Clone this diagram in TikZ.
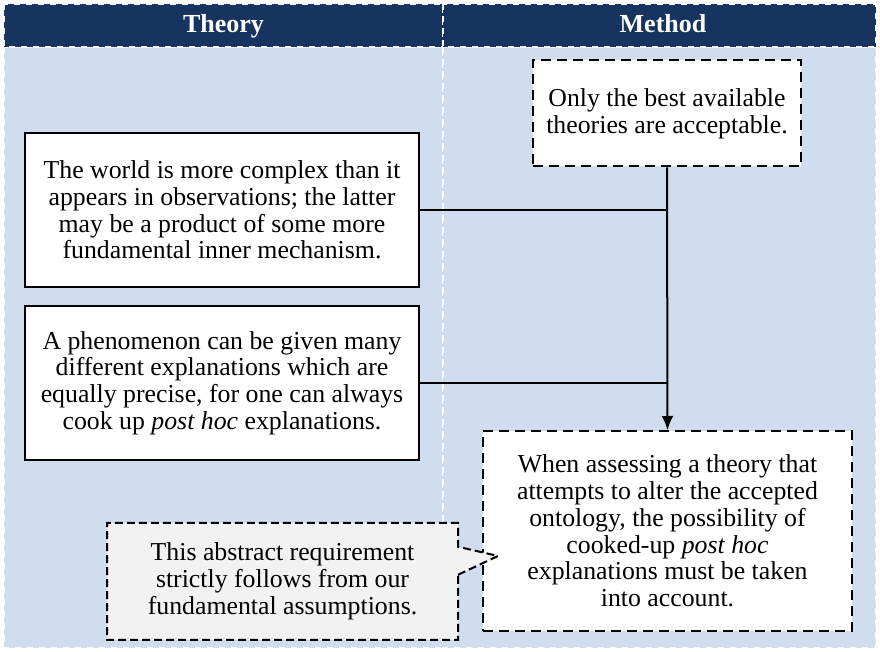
\documentclass[tikz,border=0pt]{standalone}
\usepackage{fontspec}
\setmainfont{Liberation Serif}
\usepackage{tikz}
\usetikzlibrary{positioning, arrows.meta, shapes.callouts}
\definecolor{navy}{RGB}{23,51,95}
\definecolor{paleblue}{RGB}{207,221,239}
\definecolor{notegray}{RGB}{242,242,242}
\tikzset{%
	>={Latex[length=7pt,width=6pt]},
	head/.style = {fill = navy, draw = white, dashed, line width = 0.6pt},
	lane/.style = {fill = paleblue, draw = white, dashed, line width = 0.6pt},
	headtxt/.style = {text = white, anchor = base, font = \fontsize{13}{14}\selectfont\bfseries},
	thebox/.style = {draw, fill = white, line width = 1pt, align = center, minimum width = 197pt, minimum height = 77pt, inner sep = 0pt},
	metbox/.style = {draw, fill = white, line width = 1pt, dash pattern = on 5pt off 3pt, align = center, inner sep = 0pt},
	note/.style = {rectangle callout, draw, fill = notegray, line width = 1pt, dash pattern = on 4pt off 2pt, align = center, inner sep = 0pt, callout pointer width = 14pt},
	link/.style = {line width = 1pt}
}

\begin{document}
\begin{tikzpicture}[x=0.5pt, y=-0.5pt, font=\fontsize{12.9}{13.4}\selectfont]
			\useasboundingbox (0,0) rectangle (880,652);
			% columns
			\path [lane] (4,47) rectangle (443,648);
			\path [lane] (443,47) rectangle (876,648);
			\path [head] (4,4) rectangle (443,47);
			\path [head] (443,4) rectangle (876,47);
			\node [headtxt] (theory) at (223.5,33) {Theory};
			\node [headtxt] (method) at (663,33) {Method};
			% boxes
			\node [metbox, minimum width = 134pt, minimum height = 53pt] (m1) at (667,113.5) {Only the best available\\theories are acceptable.};
			\node [thebox] (t1) at (222,210) {The world is more complex than it\\appears in observations; the latter\\may be a product of some more\\fundamental inner mechanism.};
			\node [thebox] (t2) at (222,383) {A phenomenon can be given many\\different explanations which are\\equally precise, for one can always\\cook up \emph{post hoc} explanations.};
			\node [metbox, minimum width = 184.5pt, minimum height = 100pt] (m2) at (667.5,531) {When assessing a theory that\\attempts to alter the accepted\\ontology, the possibility of\\cooked-up \emph{post hoc}\\explanations must be taken\\into account.};
			\coordinate (tip) at (498,556);
			\node [note, minimum width = 175.5pt, minimum height = 58.5pt, callout absolute pointer = (tip)] (req) at (282.5,581.5) {This abstract requirement\\strictly follows from our\\fundamental assumptions.};
			% connectors
			\draw [link] (t1.east) -- (t1.east -| m1.south);
			\draw [link] (t2.east) -- (t2.east -| m1.south);
			\draw [link, ->] (m1.south) -- (m2.north);
\end{tikzpicture}
\end{document}
